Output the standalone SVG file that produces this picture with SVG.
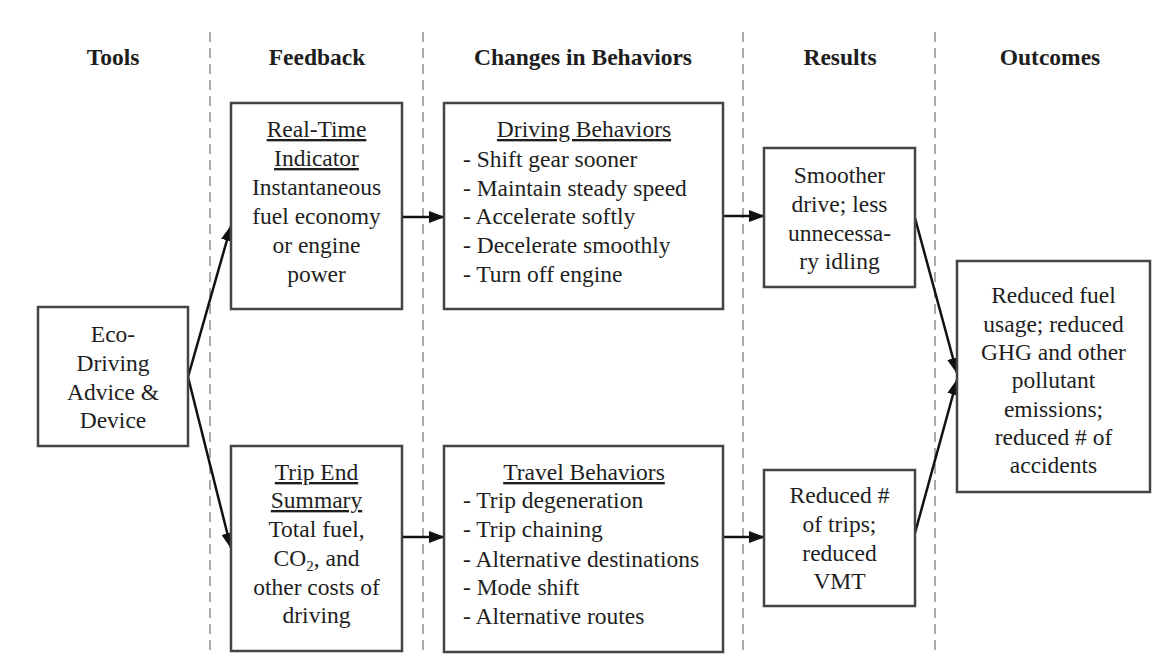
<svg xmlns="http://www.w3.org/2000/svg" width="1162" height="666" viewBox="0 0 1162 666">
<style>
text{font-family:"Liberation Serif","Times New Roman",serif;fill:#1e1e1e;font-size:23.5px}
.h{font-weight:bold;font-size:23.5px;text-anchor:middle}
.c{text-anchor:middle}
.u{text-decoration:underline}
.box{fill:#fff;stroke:#444;stroke-width:2.5}
.sep{stroke:#aaa;stroke-width:2;stroke-dasharray:10 6}
.con{stroke:#111;stroke-width:2.5;fill:none;marker-end:url(#ah)}
</style>
<defs>
<marker id="ah" markerUnits="userSpaceOnUse" markerWidth="16" markerHeight="12" refX="15" refY="6" orient="auto">
<path d="M0,0 L16,6 L0,12 Z" fill="#111"/>
</marker>
</defs>
<rect width="1162" height="666" fill="#fff"/>
<g id="separators">
<line class="sep" x1="210" y1="32" x2="210" y2="652"/>
<line class="sep" x1="423" y1="32" x2="423" y2="652"/>
<line class="sep" x1="743" y1="32" x2="743" y2="652"/>
<line class="sep" x1="935" y1="32" x2="935" y2="652"/>
</g>
<g id="headers">
<text class="h" x="113" y="65">Tools</text>
<text class="h" x="317" y="65">Feedback</text>
<text class="h" x="583" y="65">Changes in Behaviors</text>
<text class="h" x="840" y="65">Results</text>
<text class="h" x="1050" y="65">Outcomes</text>
</g>
<g id="connectors">
<line class="con" x1="188" y1="377" x2="231" y2="226"/>
<line class="con" x1="188" y1="377" x2="231" y2="548"/>
<line class="con" x1="402" y1="217" x2="444" y2="217"/>
<line class="con" x1="402" y1="537" x2="444" y2="537"/>
<line class="con" x1="723" y1="216" x2="764" y2="216"/>
<line class="con" x1="723" y1="537" x2="764" y2="537"/>
<line class="con" x1="915" y1="218" x2="957" y2="373"/>
<line class="con" x1="915" y1="533" x2="957" y2="380"/>
</g>
<g id="eco">
<rect class="box" x="38" y="307" width="150" height="139"/>
<text class="c" x="113" y="342">Eco-</text>
<text class="c" x="113" y="371">Driving</text>
<text class="c" x="113" y="400">Advice &amp;</text>
<text class="c" x="113" y="428">Device</text>
</g>
<g id="realtime">
<rect class="box" x="231" y="103" width="171" height="206"/>
<text class="c u" x="316.5" y="137">Real-Time</text>
<text class="c u" x="316.5" y="166">Indicator</text>
<text class="c" x="316.5" y="195">Instantaneous</text>
<text class="c" x="316.5" y="224">fuel economy</text>
<text class="c" x="316.5" y="253">or engine</text>
<text class="c" x="316.5" y="282">power</text>
</g>
<g id="tripend">
<rect class="box" x="231" y="446" width="171" height="205"/>
<text class="c u" x="316.5" y="480">Trip End</text>
<text class="c u" x="316.5" y="508">Summary</text>
<text class="c" x="316.5" y="537">Total fuel,</text>
<text class="c" x="316.5" y="566">CO<tspan font-size="15" dy="5">2</tspan><tspan dy="-5">, and</tspan></text>
<text class="c" x="316.5" y="595">other costs of</text>
<text class="c" x="316.5" y="623">driving</text>
</g>
<g id="driving">
<rect class="box" x="444" y="103" width="279" height="206"/>
<text class="c u" x="584" y="137">Driving Behaviors</text>
<text x="463" y="167">- Shift gear sooner</text>
<text x="463" y="196">- Maintain steady speed</text>
<text x="463" y="224">- Accelerate softly</text>
<text x="463" y="253">- Decelerate smoothly</text>
<text x="463" y="282">- Turn off engine</text>
</g>
<g id="travel">
<rect class="box" x="444" y="446" width="279" height="206"/>
<text class="c u" x="584" y="480">Travel Behaviors</text>
<text x="463" y="508">- Trip degeneration</text>
<text x="463" y="537">- Trip chaining</text>
<text x="463" y="567">- Alternative destinations</text>
<text x="463" y="595">- Mode shift</text>
<text x="463" y="624">- Alternative routes</text>
</g>
<g id="smoother">
<rect class="box" x="764" y="148" width="151" height="139"/>
<text class="c" x="839.5" y="183">Smoother</text>
<text class="c" x="839.5" y="212">drive; less</text>
<text class="c" x="839.5" y="241">unnecessa-</text>
<text class="c" x="839.5" y="269">ry idling</text>
</g>
<g id="reduced">
<rect class="box" x="764" y="470" width="151" height="136"/>
<text class="c" x="839.5" y="503">Reduced #</text>
<text class="c" x="839.5" y="532">of trips;</text>
<text class="c" x="839.5" y="561">reduced</text>
<text class="c" x="839.5" y="589">VMT</text>
</g>
<g id="outcome">
<rect class="box" x="957" y="261" width="193" height="231"/>
<text class="c" x="1053.5" y="303">Reduced fuel</text>
<text class="c" x="1053.5" y="332">usage; reduced</text>
<text class="c" x="1053.5" y="360">GHG and other</text>
<text class="c" x="1053.5" y="388">pollutant</text>
<text class="c" x="1053.5" y="417">emissions;</text>
<text class="c" x="1053.5" y="445">reduced # of</text>
<text class="c" x="1053.5" y="473">accidents</text>
</g>
</svg>
